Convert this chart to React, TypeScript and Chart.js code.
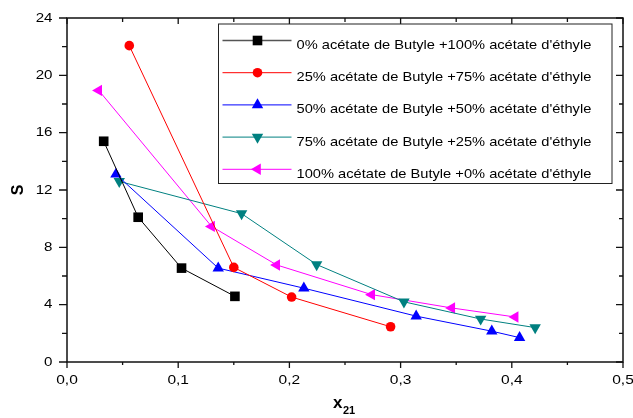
import { useEffect, useRef } from 'react';
import { Chart, registerables } from 'chart.js';
Chart.register(...registerables);

const seriesLabels = [
  '0% acétate de Butyle +100% acétate d\'éthyle',
  '25% acétate de Butyle +75% acétate d\'éthyle',
  '50% acétate de Butyle +50% acétate d\'éthyle',
  '75% acétate de Butyle +25% acétate d\'éthyle',
  '100% acétate de Butyle +0% acétate d\'éthyle',
];
const x0 = [0.033, 0.064, 0.103, 0.151];
const s0 = [15.4, 10.1, 6.55, 4.58];
const x25 = [0.056, 0.15, 0.202, 0.291];
const s25 = [22.07, 6.6, 4.53, 2.46];
const x50 = [0.044, 0.136, 0.213, 0.314, 0.382, 0.407];
const s50 = [13.1, 6.55, 5.15, 3.2, 2.15, 1.7];
const x75 = [0.047, 0.157, 0.2245, 0.303, 0.372, 0.421];
const s75 = [12.6, 10.35, 6.8, 4.2, 3.0, 2.4];
const x100 = [0.0285, 0.13, 0.1886, 0.274, 0.346, 0.403];
const s100 = [18.95, 9.46, 6.77, 4.7, 3.77, 3.14];

const xMajor = [0, 0.1, 0.2, 0.3, 0.4, 0.5];
const xMinor = [0.05, 0.15, 0.25, 0.35, 0.45];
const yMajor = [0, 4, 8, 12, 16, 20, 24];
const yMinor = [2, 6, 10, 14, 18, 22];

const FONT = '"Liberation Sans", Arial, sans-serif';

function drawMarker(ctx: CanvasRenderingContext2D, style: string, rot: number, r: number, x: number, y: number, color: string) {
  ctx.save();
  ctx.fillStyle = color;
  ctx.beginPath();
  if (style === 'rect') {
    const s = Math.SQRT1_2 * r;
    ctx.rect(x - s, y - s, 2 * s, 2 * s);
  } else if (style === 'circle') {
    ctx.arc(x, y, r, 0, Math.PI * 2);
  } else {
    let rad = (rot * Math.PI) / 180;
    ctx.moveTo(x + Math.sin(rad) * r, y - Math.cos(rad) * r);
    rad += (2 * Math.PI) / 3;
    ctx.lineTo(x + Math.sin(rad) * r, y - Math.cos(rad) * r);
    rad += (2 * Math.PI) / 3;
    ctx.lineTo(x + Math.sin(rad) * r, y - Math.cos(rad) * r);
    ctx.closePath();
  }
  ctx.fill();
  ctx.restore();
}

function stretchText(ctx: CanvasRenderingContext2D, text: string, x: number, y: number, sx: number, align: 'left' | 'center' | 'right') {
  ctx.save();
  ctx.translate(x, y);
  ctx.scale(sx, 1);
  ctx.textAlign = align;
  ctx.fillText(text, 0, 0);
  ctx.restore();
}

const framePlugin = {
  id: 'framePlugin',
  afterDraw(chart: any) {
    const { ctx, chartArea: a } = chart;
    const xs = chart.scales.x;
    const ys = chart.scales.y;
    ctx.save();
    ctx.strokeStyle = '#111';
    ctx.lineWidth = 1.5;
    ctx.strokeRect(a.left, a.top, a.right - a.left, a.bottom - a.top);
    ctx.lineWidth = 1.3;
    ctx.beginPath();
    const tick = (vals: number[], len: number, inLen: number) => {
      for (const v of vals) {
        const px = xs.getPixelForValue(v);
        ctx.moveTo(px, a.bottom);
        ctx.lineTo(px, a.bottom + len);
        ctx.moveTo(px, a.top);
        ctx.lineTo(px, a.top + inLen);
      }
    };
    tick(xMajor, 6, 6);
    tick(xMinor, 3, 4);
    const ytick = (vals: number[], len: number, inLen: number) => {
      for (const v of vals) {
        const py = ys.getPixelForValue(v);
        ctx.moveTo(a.left, py);
        ctx.lineTo(a.left - len, py);
        ctx.moveTo(a.right, py);
        ctx.lineTo(a.right - inLen, py);
      }
    };
    ytick(yMajor, 8, 7);
    ytick(yMinor, 5, 4);
    ctx.stroke();

    // tick labels
    ctx.fillStyle = '#000';
    ctx.font = '13.5px ' + FONT;
    ctx.textBaseline = 'middle';
    for (const v of xMajor) {
      stretchText(ctx, v.toFixed(1).replace('.', ','), xs.getPixelForValue(v), a.bottom + 18.5, 1.15, 'center');
    }
    for (const v of yMajor) {
      stretchText(ctx, String(v), a.left - 14.5, ys.getPixelForValue(v), 1.12, 'right');
    }

    // axis titles
    ctx.font = 'bold 17px ' + FONT;
    ctx.textBaseline = 'middle';
    ctx.textAlign = 'left';
    ctx.fillText('x', 333, 403);
    ctx.font = 'bold 11px ' + FONT;
    ctx.fillText('21', 343, 411);
    ctx.save();
    ctx.translate(19, 190);
    ctx.rotate(-Math.PI / 2);
    ctx.font = 'bold 16px ' + FONT;
    ctx.textAlign = 'center';
    ctx.fillText('S', 0, 0);
    ctx.restore();

    // legend
    const lx = 218.5, ly = 24, lw = 393.5, lh = 159.5;
    ctx.fillStyle = '#fff';
    ctx.fillRect(lx, ly, lw, lh);
    ctx.strokeStyle = '#222';
    ctx.lineWidth = 1;
    ctx.strokeRect(lx, ly, lw, lh);
    chart.data.datasets.forEach((ds: any, i: number) => {
      const yy = 40.5 + i * 32.2;
      ctx.strokeStyle = i === 0 ? '#555' : ds.borderColor;
      ctx.lineWidth = i === 0 ? 1.5 : 1;
      ctx.beginPath();
      ctx.moveTo(222.5, yy);
      ctx.lineTo(291.5, yy);
      ctx.stroke();
      drawMarker(ctx, ds.pointStyle, ds.pointRotation || 0, ds.pointRadius, 257.5, yy, ds.pointBackgroundColor);
      ctx.fillStyle = '#000';
      ctx.font = '13px ' + FONT;
      ctx.textBaseline = 'middle';
      stretchText(ctx, ds.label, 296.5, yy + 5, 1.127, 'left');
    });
    ctx.restore();
  },
};

function mk(label: string, xv: number[], yv: number[], color: string, style: string, rot: number, r: number) {
  return {
    label,
    data: xv.map((v, i) => ({ x: v, y: yv[i] })),
    borderColor: color,
    backgroundColor: color,
    pointBackgroundColor: color,
    pointBorderColor: color,
    pointBorderWidth: 0,
    pointStyle: style,
    pointRotation: rot,
    pointRadius: r,
    borderWidth: 1,
    showLine: true,
    tension: 0,
  };
}

export default function App() {
  const ref = useRef<HTMLCanvasElement>(null);
  useEffect(() => {
    document.body.style.margin = '0';
    const chart = new Chart(ref.current as HTMLCanvasElement, {
      type: 'scatter',
      data: {
        datasets: [
          mk(seriesLabels[0], x0, s0, '#000000', 'rect', 0, 6.8),
          mk(seriesLabels[1], x25, s25, '#ff0000', 'circle', 0, 4.8),
          mk(seriesLabels[2], x50, s50, '#0000ff', 'triangle', 0, 6.6),
          mk(seriesLabels[3], x75, s75, '#008080', 'triangle', 180, 6.6),
          mk(seriesLabels[4], x100, s100, '#ff00ff', 'triangle', -90, 6.6),
        ] as any,
      },
      options: {
        animation: false,
        responsive: false,
        layout: { padding: { top: 18, right: 10, left: 0, bottom: 0 } },
        plugins: { legend: { display: false }, tooltip: { enabled: false } },
        scales: {
          x: {
            type: 'linear',
            min: 0,
            max: 0.5,
            grid: { display: false },
            border: { display: false },
            ticks: { display: false, stepSize: 0.1 },
            afterFit: (s: any) => { s.height = 56; s.paddingLeft = 0; s.paddingRight = 0; },
          },
          y: {
            type: 'linear',
            min: 0,
            max: 24,
            grid: { display: false },
            border: { display: false },
            ticks: { display: false, stepSize: 4 },
            afterFit: (s: any) => { s.width = 67; s.paddingTop = 0; s.paddingBottom = 0; },
          },
        },
      } as any,
      plugins: [framePlugin],
    });
    return () => chart.destroy();
  }, []);
  return (
    <div style={{ position: 'absolute', left: 0, top: 0, width: 633, height: 418 }}>
      <canvas ref={ref} width={633} height={418} style={{ display: 'block' }} />
    </div>
  );
}
